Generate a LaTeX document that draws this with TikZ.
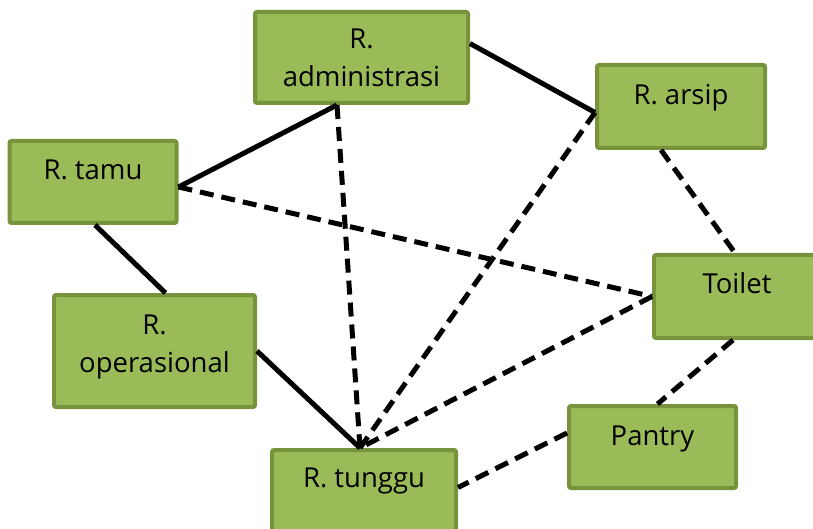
\documentclass[tikz,border=0pt]{standalone}
\usepackage{fontspec}
\setmainfont{Open Sans}
\usetikzlibrary{positioning}
\definecolor{roomfill}{HTML}{9BBB59}
\definecolor{roomline}{HTML}{77933C}
\tikzset{
   room/.style = {rectangle, draw=roomline, fill=roomfill, line width=4pt,
                  rounded corners=2pt, inner xsep=2pt, inner ysep=0pt,
                  align=center, font=\fontsize{27.5}{38}\selectfont},
   link/.style = {line width=5pt},
   maybe/.style = {line width=5pt, dash pattern=on 14pt off 8pt},
}
\begin{document}
\begin{tikzpicture}[x=1pt,y=1pt]
      \useasboundingbox (0,0) rectangle (813,528);

      % rooms
      \node[room, minimum width=213pt, text height=75pt, text depth=16pt]
         (adm) at (361.5,470.5) {R.\\administrasi};
      \node[room, minimum width=168pt, text height=40pt, text depth=43pt]
         (arsip) at (681,421.5) {R. arsip};
      \node[room, minimum width=167pt, text height=39pt, text depth=43pt]
         (tamu) at (93,346) {R. tamu};
      \node[room, minimum width=166pt, text height=38pt, text depth=45pt]
         (toilet) at (737,231.5) {Toilet};
      \node[room, minimum width=201pt, text height=77pt, text depth=35pt]
         (oper) at (154.5,177) {R.\\operasional};
      \node[room, minimum width=167pt, text height=39pt, text depth=43pt]
         (pantry) at (652.5,81) {Pantry};
      \node[room, minimum width=184pt, text height=37pt, text depth=44pt]
         (tunggu) at (364,37.5) {R. tunggu};

      \coordinate (tin)  at ([xshift=-4pt]tunggu.north);
      \coordinate (tout) at ([yshift=-5pt]tamu.east);
      \coordinate (aout) at ([xshift=-24.5pt]adm.south);
      \coordinate (rin)  at ([yshift=-6pt]arsip.west);

      % close relations
      \draw[link] (tout) -- (aout);
      \draw[link] ([yshift=14pt]adm.east) -- (rin);
      \draw[link] ([xshift=2pt]tamu.south) -- ([xshift=11pt]oper.north);
      \draw[link] (oper.east) -- (tin);

      % loose relations
      \draw[maybe] (aout) -- (tin);
      \draw[maybe] (tout) -- (toilet.west);
      \draw[maybe] (rin) -- (tin);
      \draw[maybe] ([xshift=-20pt]arsip.south) -- ([xshift=-2pt]toilet.north);
      \draw[maybe] (toilet.west) -- (tin);
      \draw[maybe] ([xshift=-4pt]toilet.south) -- ([xshift=5pt]pantry.north);
      \draw[maybe] ([yshift=14pt]pantry.west) -- ([yshift=3pt]tunggu.east);

\end{tikzpicture}
\end{document}
